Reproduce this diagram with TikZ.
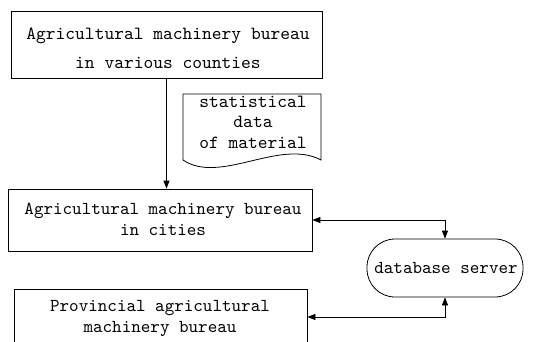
\documentclass[tikz,border=0pt]{standalone}
\usepackage{fontspec}
\setmonofont{lmmono10-regular.otf}
\usetikzlibrary{arrows.meta}
\tikzset{
  box/.style={draw, line width=0.8pt, inner sep=0pt},
  txt/.style={font=\ttfamily\fontsize{18.2}{21}\selectfont, align=center, inner sep=0pt},
  arr/.style={line width=0.8pt, -{Triangle[length=8pt,width=6pt]}},
  darr/.style={line width=0.8pt, {Triangle[length=8pt,width=6pt]}-{Triangle[length=8pt,width=6pt]}},
}
\begin{document}
\begin{tikzpicture}[x=1pt,y=-1pt]
\clip (0,0) rectangle (541,341);
\fill[white] (0,0) rectangle (541,341);
% boxes
\node[box, minimum width=311pt, minimum height=67pt] (b1) at (166.5,44.5) {};
\node[box, minimum width=304pt, minimum height=62pt] (b2) at (160,220) {};
\node[box, minimum width=293pt, minimum height=56pt] (b3) at (160.5,317) {};
\node[draw, line width=0.8pt, rounded corners=28pt, minimum width=156pt, minimum height=58pt, inner sep=0pt] (db) at (445,268) {};
% document shape
\draw[line width=0.8pt] (183,94) -- (321,94) -- (321,160)
  .. controls (280,138) and (220,185) .. (183,160) -- cycle;
% texts (base anchor = baseline of the last line)
\node[txt, font=\ttfamily\fontsize{18.6}{29}\selectfont, anchor=base] (t1) at (168,68) {Agricultural machinery bureau\\in various counties};
\node[txt, anchor=base] (t2) at (163,235) {Agricultural machinery bureau\\in cities};
\node[txt, anchor=base] (t3) at (160,332) {Provincial agricultural\\machinery bureau};
\node[txt, font=\ttfamily\fontsize{18.6}{20.5}\selectfont, anchor=base] (t4) at (253,148) {statistical\\data\\of material};
\node[txt, anchor=base] (t5) at (446,273) {database server};
% connectors
\draw[arr] (b1.south) -- (b1.south |- b2.north);
\draw[darr] (b2.east) -| (db.north);
\draw[darr] (b3.east) -| (db.south);
\end{tikzpicture}
\end{document}
